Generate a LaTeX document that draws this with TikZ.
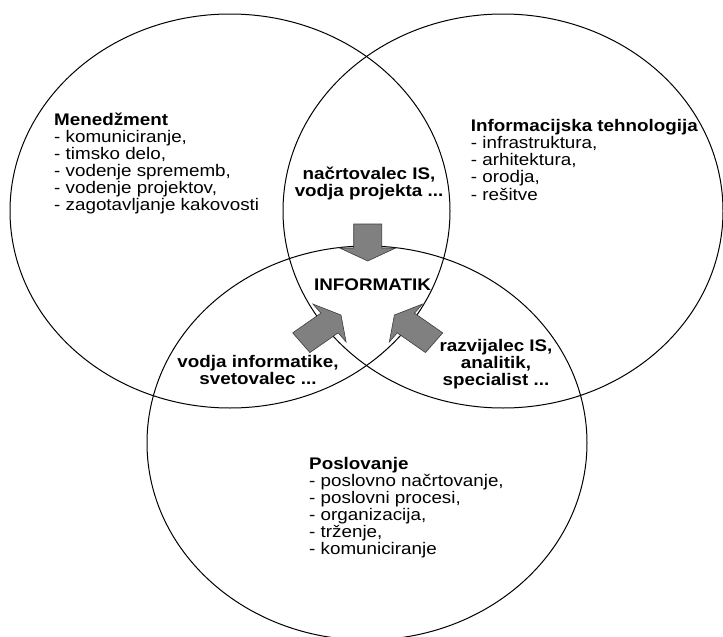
\documentclass[tikz,border=0pt]{standalone}
\usepackage{fontspec}
\setmainfont{Liberation Sans}[FakeStretch=1.12]
\definecolor{arrowgray}{RGB}{128,128,128}
\definecolor{arrowedge}{RGB}{60,60,60}
\begin{document}
\begin{tikzpicture}[x=1pt,y=-1pt,
  field/.style={draw=black, line width=1pt},
  blockarrow/.style={fill=arrowgray, draw=arrowedge, line width=0.6pt, line join=miter},
  lbl/.style={inner sep=0pt, font=\fontsize{16.8}{16.4}\selectfont},
]
\useasboundingbox (0,0) rectangle (723,637);

% the three overlapping fields
\draw[field] (230,211) ellipse [x radius=220pt, y radius=197pt];
\draw[field] (503,211) ellipse [x radius=220pt, y radius=197pt];
\draw[field] (367,443) ellipse [x radius=220pt, y radius=197pt];

% block arrows pointing at the centre (tip at the origin of each scope)
\def\shortarrowpath{(0,0) -- (-13,25) -- (-13,12.5) -- (-37,12.5) -- (-37,-12.5) -- (-13,-12.5) -- (-13,-25) -- cycle}
\def\longarrowpath{(0,0) -- (-13,24) -- (-13,12.5) -- (-45,12.5) -- (-45,-12.5) -- (-13,-12.5) -- (-13,-24) -- cycle}
\begin{scope}[shift={(367.7,261)}, xscale=1.12, rotate=-90]
  \draw[blockarrow] \shortarrowpath;
\end{scope}
\begin{scope}[shift={(341,315)}, xscale=1.12, rotate=38]
  \draw[blockarrow] \longarrowpath;
\end{scope}
\begin{scope}[shift={(394.4,315)}, xscale=1.12, rotate=142]
  \draw[blockarrow] \longarrowpath;
\end{scope}

% field descriptions
\node[lbl, anchor=base west] (mgmt) at (54,125) {\begin{tabular}[t]{@{}l@{}}\textbf{Menedžment}\\- komuniciranje,\\- timsko delo,\\- vodenje sprememb,\\- vodenje projektov,\\- zagotavljanje kakovosti\end{tabular}};
\node[lbl, anchor=base west] (it) at (470.7,131.7) {\begin{tabular}[t]{@{}l@{}}\textbf{Informacijska tehnologija}\\- infrastruktura,\\- arhitektura,\\- orodja,\\- rešitve\end{tabular}};
\node[lbl, anchor=base west] (biz) at (309,469) {\begin{tabular}[t]{@{}l@{}}\textbf{Poslovanje}\\- poslovno načrtovanje,\\- poslovni procesi,\\- organizacija,\\- trženje,\\- komuniciranje\end{tabular}};

% roles in the overlaps
\node[lbl, anchor=base] (plan) at (369,179) {\bfseries\begin{tabular}[t]{@{}c@{}}načrtovalec IS,\\vodja projekta ...\end{tabular}};
\node[lbl, anchor=base] (lead) at (258,367.5) {\bfseries\begin{tabular}[t]{@{}c@{}}vodja informatike,\\svetovalec ...\end{tabular}};
\node[lbl, anchor=base] (dev) at (496,351.6) {\bfseries\begin{tabular}[t]{@{}c@{}}razvijalec IS,\\analitik,\\specialist ...\end{tabular}};
\node[lbl, anchor=base] (core) at (372.5,290.7) {\bfseries INFORMATIK};
\end{tikzpicture}
\end{document}
